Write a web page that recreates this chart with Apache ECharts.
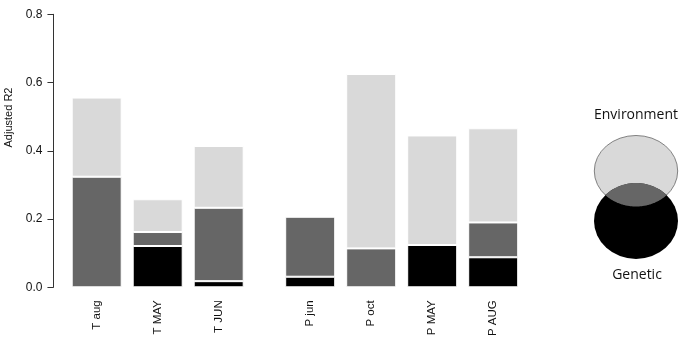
<!DOCTYPE html>
<html>
<head>
<meta charset="utf-8">
<script src="https://cdn.jsdelivr.net/npm/echarts@6/dist/echarts.min.js"></script>
<style>
  html, body { margin: 0; padding: 0; background: #fff; }
  #container { width: 686px; height: 340px; }
</style>
</head>
<body>
<div id="container"></div>
<script>
// bars, left to right
var categories = ['T aug', 'T MAY', 'T JUN', 'P jun', 'P oct', 'P MAY', 'P AUG'];
var groups = ['T', 'T', 'T', 'P', 'P', 'P', 'P'];
// stacked parts of adjusted R2 (bottom to top)
var genetic = [0, 0.121, 0.018, 0.031, 0, 0.124, 0.088];
var shared = [0.324, 0.041, 0.215, 0.176, 0.114, 0, 0.102];
var environment = [0.232, 0.096, 0.181, 0, 0.511, 0.321, 0.276];

// half-width slots so the two groups get a gap between them
var slots = [];
var slotIndex = [];
categories.forEach(function (c, i) {
  if (i > 0) slots.push('');
  if (i > 0 && groups[i] !== groups[i - 1]) slots.push('');
  slotIndex.push(slots.length);
  slots.push(c);
});
function toSlots(arr) {
  var out = slots.map(function () { return '-'; });
  arr.forEach(function (v, i) { out[slotIndex[i]] = v; });
  return out;
}

// venn legend shape
var topE = { cx: 636, cy: 171, rx: 41.7, ry: 35.5 };
var botE = { cx: 636, cy: 221, rx: 42, ry: 38 };
function inside(e, x, y) {
  var dx = (x - e.cx) / e.rx, dy = (y - e.cy) / e.ry;
  return dx * dx + dy * dy <= 1;
}
var lens = [];
for (var k = 0; k <= 200; k++) {
  var t = Math.PI * k / 200;
  var x = topE.cx + topE.rx * Math.cos(t), y = topE.cy + topE.ry * Math.sin(t);
  if (inside(botE, x, y)) lens.push([x, y]);
}
for (var k = 0; k <= 200; k++) {
  var t = Math.PI + Math.PI * k / 200;
  var x = botE.cx + botE.rx * Math.cos(t), y = botE.cy + botE.ry * Math.sin(t);
  if (inside(topE, x, y)) lens.push([x, y]);
}

var chart = echarts.init(document.getElementById('container'));
var barBase = { type: 'bar', stack: 'r2', barWidth: 50, clip: false };

chart.setOption({
  animation: false,
  textStyle: { fontFamily: 'Liberation Sans' },
  grid: { left: 81.45, right: 177.55, top: 14.3, bottom: 52.7, containLabel: false, outerBoundsMode: 'none' },
  xAxis: {
    type: 'category',
    data: slots,
    axisLine: { show: false },
    axisTick: { show: false },
    axisLabel: { interval: 0, rotate: 90, margin: 13, fontSize: 11.5, color: '#111' }
  },
  yAxis: {
    type: 'value',
    min: 0, max: 0.8, interval: 0.2,
    offset: 28,
    splitLine: { show: false },
    axisLine: { show: true, lineStyle: { color: '#333', width: 1 } },
    axisTick: { show: true, length: 6, lineStyle: { color: '#333' } },
    axisLabel: { fontSize: 12, margin: 11, color: '#111', formatter: function (v) { return v.toFixed(1); } }
  },
  series: [
    Object.assign({ name: 'Genetic', data: toSlots(genetic), itemStyle: { color: '#000', borderColor: '#fff', borderWidth: 1 } }, barBase),
    Object.assign({ name: 'Shared', data: toSlots(shared), itemStyle: { color: '#666', borderColor: '#fff', borderWidth: 1 } }, barBase),
    Object.assign({ name: 'Environment', data: toSlots(environment), itemStyle: { color: '#d9d9d9', borderColor: '#fff', borderWidth: 1 } }, barBase)
  ],
  graphic: [
    { type: 'text', x: 9, y: 117.5, rotation: Math.PI / 2,
      style: { text: 'Adjusted R2', font: '11px "Liberation Sans"', fill: '#111', align: 'center', verticalAlign: 'middle' } },
    { type: 'circle', x: topE.cx, y: topE.cy, scaleY: topE.ry / topE.rx, shape: { cx: 0, cy: 0, r: topE.rx },
      style: { fill: '#d9d9d9', stroke: '#777', lineWidth: 1, strokeNoScale: true } },
    { type: 'circle', x: botE.cx, y: botE.cy, scaleY: botE.ry / botE.rx, shape: { cx: 0, cy: 0, r: botE.rx },
      style: { fill: '#000' } },
    { type: 'polygon', shape: { points: lens }, style: { fill: '#666' } },
    { type: 'text', x: 636, y: 115, style: { text: 'Environment', font: '14px "Open Sans"', fill: '#111', align: 'center', verticalAlign: 'middle' } },
    { type: 'text', x: 637, y: 275, style: { text: 'Genetic', font: '14px "Open Sans"', fill: '#111', align: 'center', verticalAlign: 'middle' } }
  ]
});
</script>
</body>
</html>
